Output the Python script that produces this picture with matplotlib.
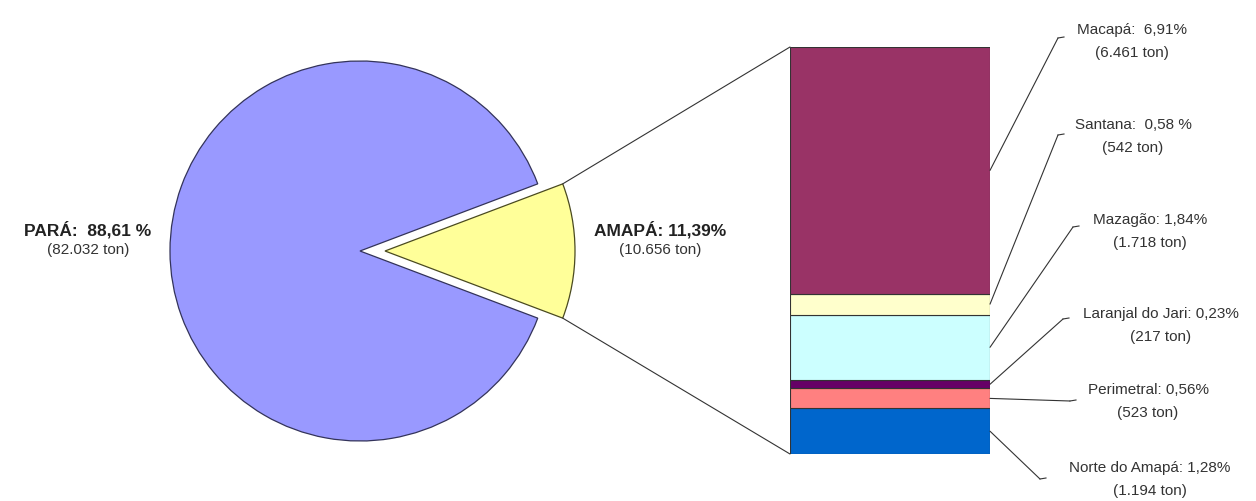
import matplotlib
matplotlib.use('Agg')
import matplotlib.pyplot as plt
from matplotlib.patches import ConnectionPatch
import numpy as np

plt.rcParams['font.family'] = ['Liberation Sans', 'DejaVu Sans']

# pie data
pie_names = ['PARÁ', 'AMAPÁ']
pie_tons = [82032, 10656]
pie_pct = ['88,61 %', '11,39%']
pie_colors = ['#9999FF', '#FFFF99']

# breakdown of Amapá (bottom to top)
mun_names = ['Norte do Amapá', 'Perimetral', 'Laranjal do Jari', 'Mazagão', 'Santana', 'Macapá']
mun_tons = [1194, 523, 217, 1718, 542, 6461]
mun_pct = ['1,28%', '0,56%', '0,23%', '1,84%', '0,58 %', '6,91%']
mun_colors = ['#0066CC', '#FF8080', '#660066', '#CCFFFF', '#FFFFCC', '#993366']

W, H = 1256, 502
fig = plt.figure(figsize=(W / 100, H / 100), dpi=100)
ax = fig.add_axes([0, 0, 1, 1])

# pie, in pixel coordinates (y up); explode is in data units here
amapa_frac = pie_tons[1] / sum(pie_tons)
wedges, _ = ax.pie(pie_tons, colors=pie_colors, center=(360, 250), radius=190,
                   startangle=amapa_frac * 360 / 2, explode=[0, 25],
                   wedgeprops=dict(edgecolor='#33335a', linewidth=0.9))
wedges[1].set_edgecolor('#4a4a20')
ax.set_xlim(0, W)
ax.set_ylim(0, H)
ax.set_aspect('auto')
ax.axis('off')

def fmt_ton(v):
    return f'{v:,}'.replace(',', '.') + ' ton'

ax.text(88, H - 230, f'{pie_names[0]}:  {pie_pct[0]}', ha='center', va='center',
        fontsize=12.5, fontweight='bold', color='#222222')
ax.text(88, H - 250, f'({fmt_ton(pie_tons[0])})', ha='center', va='center',
        fontsize=11, color='#333333')
ax.text(660, H - 230, f'{pie_names[1]}: {pie_pct[1]}', ha='center', va='center',
        fontsize=12.5, fontweight='bold', color='#222222')
ax.text(660, H - 250, f'({fmt_ton(pie_tons[1])})', ha='center', va='center',
        fontsize=11, color='#333333')

# stacked bar
bax = fig.add_axes([790 / W, 47 / H, 200 / W, 407 / H])
total = sum(mun_tons)
bottoms = np.cumsum([0] + mun_tons[:-1])
bax.bar([0.5] * len(mun_tons), mun_tons, bottom=bottoms, width=1,
        color=mun_colors, edgecolor='#333333', linewidth=0.8)
bax.set_xlim(0, 1)
bax.set_ylim(0, total)
bax.axis('off')

# connectors from wedge to bar
w = wedges[1]
cx, cy = w.center
for ang, by in [(w.theta2, total), (w.theta1, 0)]:
    px = cx + w.r * np.cos(np.radians(ang))
    py = cy + w.r * np.sin(np.radians(ang))
    con = ConnectionPatch(xyA=(px, py), coordsA=ax.transData, xyB=(0, by),
                          coordsB=bax.transData, color='#333333', linewidth=0.8)
    fig.add_artist(con)

# right side labels: line end, text center x, text y (pixels from top)
lab_end = [(1040, 480), (1070, 402), (1063, 320), (1073, 228), (1058, 136), (1058, 39)]
lab_x = [1150, 1148, 1161, 1150, 1133, 1132]
lab_y = [468, 390, 314, 220, 125, 30]

for i in range(len(mun_tons)):
    mid = bottoms[i] + mun_tons[i] / 2
    ex, ey = lab_end[i]
    con = ConnectionPatch(xyA=(1, mid), coordsA=bax.transData, xyB=(ex, H - ey),
                          coordsB=ax.transData, color='#333333', linewidth=0.8)
    fig.add_artist(con)
    ax.plot([ex, ex + 6], [H - ey, H - ey + 1], color='#333333', linewidth=0.8)
    sep = ':  ' if mun_names[i] in ('Macapá', 'Santana') else ': '
    ax.text(lab_x[i], H - lab_y[i], f'{mun_names[i]}{sep}{mun_pct[i]}', ha='center',
            va='center', fontsize=11, color='#333333')
    ax.text(lab_x[i], H - lab_y[i] - 23, f'({fmt_ton(mun_tons[i])})', ha='center',
            va='center', fontsize=11, color='#333333')

fig.savefig('out.png', dpi=100)
